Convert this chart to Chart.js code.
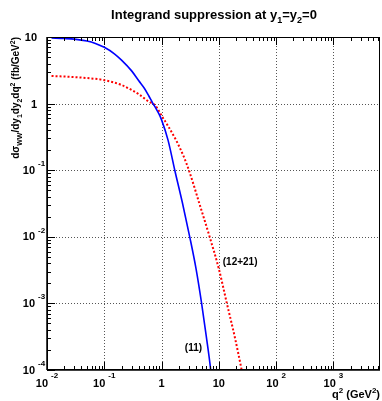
<!DOCTYPE html>
<html>
<head>
<meta charset="utf-8">
<script src="https://cdn.jsdelivr.net/npm/chart.js@4.4.1/dist/chart.umd.min.js"></script>
<style>
  html, body { margin: 0; padding: 0; background: #fff; }
  #wrap { position: relative; width: 382px; height: 401px; }
</style>
</head>
<body>
<div id="wrap"><canvas id="chart" width="382" height="401"></canvas></div>
<script>
// Values (q^2 in GeV^2, dsigma in fb/GeV^2)
const q2Blue  = [0.012, 0.02, 0.03, 0.05, 0.07, 0.1, 0.15, 0.2, 0.3, 0.4, 0.5, 0.6, 0.7, 0.8, 0.9, 1.0, 1.3, 1.7, 2.3, 3.1, 4.0, 5.0, 6.0, 7.2, 7.6];
const sigBlue = [9.65, 9.5, 9.3, 8.7, 8.0, 7.0, 5.6, 4.5, 3.1, 2.2, 1.7, 1.3, 1.02, 0.84, 0.7, 0.57, 0.28, 0.1, 0.033, 0.01, 0.0033, 0.001, 0.00033, 0.0001, 0.00006];

const q2Red  = [0.012, 0.03, 0.05, 0.1, 0.2, 0.3, 0.4, 0.5, 0.6, 0.76, 0.85, 1.0, 1.3, 1.8, 2.4, 3.0, 4.6, 6.9, 10, 13.8, 19, 25, 28];
const sigRed = [2.6, 2.5, 2.42, 2.25, 1.9, 1.6, 1.38, 1.2, 1.07, 0.95, 0.84, 0.66, 0.46, 0.28, 0.165, 0.1, 0.031, 0.01, 0.0033, 0.001, 0.00031, 0.0001, 0.00006];

const xDecades = [-2, -1, 0, 1, 2, 3];
const yDecades = [-4, -3, -2, -1, 0, 1];

const curveLabels = [
  { text: '(12+21)', x: 11.7, y: 0.0038 },
  { text: '(11)',    x: 2.55, y: 0.00019 },
];

const FONT = '"Liberation Sans", Arial, sans-serif';

function toPoints(xs, ys) {
  return xs.map((x, i) => ({ x, y: ys[i] }));
}

// text runs with sub/superscripts
function richWidth(ctx, parts, size) {
  let w = 0;
  parts.forEach(p => {
    ctx.font = `bold ${p.s ? Math.round(size * 0.7) : size}px ${FONT}`;
    w += ctx.measureText(p.t).width;
  });
  return w;
}
function drawRich(ctx, parts, x, y, size) {
  parts.forEach(p => {
    const fs = p.s ? Math.round(size * 0.7) : size;
    ctx.font = `bold ${fs}px ${FONT}`;
    let dy = 0;
    if (p.s === 'sup') dy = -size * 0.45;
    if (p.s === 'sub') dy = size * 0.28;
    ctx.fillText(p.t, x, y + dy);
    x += ctx.measureText(p.t).width;
  });
}

const frame = {
  id: 'frame',
  beforeDatasetsDraw(chart) {
    const { ctx, chartArea: a, scales: { x, y } } = chart;
    ctx.save();
    // dotted grid at decades
    ctx.strokeStyle = '#555';
    ctx.lineWidth = 1;
    ctx.setLineDash([1, 2]);
    xDecades.forEach(e => {
      const px = Math.round(x.getPixelForValue(Math.pow(10, e))) + 0.5;
      if (px <= a.left + 1 || px >= a.right - 1) return;
      ctx.beginPath(); ctx.moveTo(px, a.top); ctx.lineTo(px, a.bottom); ctx.stroke();
    });
    yDecades.forEach(e => {
      const py = Math.round(y.getPixelForValue(Math.pow(10, e))) + 0.5;
      if (py <= a.top + 1 || py >= a.bottom - 1) return;
      ctx.beginPath(); ctx.moveTo(a.left, py); ctx.lineTo(a.right, py); ctx.stroke();
    });
    ctx.restore();
  },
  afterDraw(chart) {
    const { ctx, chartArea: a, scales: { x, y } } = chart;
    ctx.save();
    ctx.setLineDash([]);
    ctx.strokeStyle = '#000';
    ctx.lineWidth = 1;
    ctx.strokeRect(a.left + 0.5, a.top + 0.5, a.right - a.left - 1, a.bottom - a.top - 1);
    ctx.lineWidth = 1.5;
    ctx.beginPath(); ctx.moveTo(a.left, a.bottom); ctx.lineTo(a.right, a.bottom); ctx.stroke();
    ctx.beginPath(); ctx.moveTo(a.left, a.top); ctx.lineTo(a.left, a.bottom); ctx.stroke();

    // inward ticks on bottom, top and left
    ctx.lineWidth = 1;
    for (let e = -2; e <= 3; e++) {
      for (let m = 1; m <= 9; m++) {
        const v = m * Math.pow(10, e);
        if (v < x.min || v > x.max) continue;
        const px = Math.round(x.getPixelForValue(v)) + 0.5;
        const len = m === 1 ? 8 : 4;
        ctx.beginPath(); ctx.moveTo(px, a.bottom); ctx.lineTo(px, a.bottom - len); ctx.stroke();
        ctx.beginPath(); ctx.moveTo(px, a.top); ctx.lineTo(px, a.top + len); ctx.stroke();
      }
    }
    for (let e = -4; e <= 1; e++) {
      for (let m = 1; m <= 9; m++) {
        const v = m * Math.pow(10, e);
        if (v < y.min || v > y.max) continue;
        const py = Math.round(y.getPixelForValue(v)) + 0.5;
        const len = m === 1 ? 8 : 4;
        ctx.beginPath(); ctx.moveTo(a.left, py); ctx.lineTo(a.left + len, py); ctx.stroke();
      }
    }

    ctx.fillStyle = '#000';
    ctx.textBaseline = 'alphabetic';
    ctx.textAlign = 'left';
    const fs = 11;

    // x tick labels: "10" with raised exponent
    xDecades.forEach(e => {
      const px = x.getPixelForValue(Math.pow(10, e));
      const base = e === 0 ? '1' : '10';
      const sup = (e === 0 || e === 1) ? '' : String(e);
      ctx.font = `bold ${fs}px ${FONT}`;
      const wb = ctx.measureText(base).width;
      ctx.font = `bold 8px ${FONT}`;
      const ws = sup ? ctx.measureText(sup).width + 3 : 0;
      const x0 = px - (wb + ws) / 2;
      ctx.font = `bold ${fs}px ${FONT}`;
      ctx.fillText(base, x0, a.bottom + 17);
      if (sup) {
        ctx.font = `bold 8px ${FONT}`;
        ctx.fillText(sup, x0 + wb + 3, a.bottom + 8);
      }
    });
    // y tick labels
    yDecades.forEach(e => {
      const py = y.getPixelForValue(Math.pow(10, e));
      ctx.font = `bold ${fs}px ${FONT}`;
      if (e === 0 || e === 1) {
        const t = e === 0 ? '1' : '10';
        ctx.fillText(t, 37 - ctx.measureText(t).width, py + 4);
      } else {
        ctx.fillText('10', 35 - ctx.measureText('10').width, py + 3.5);
        ctx.font = `bold 8px ${FONT}`;
        ctx.fillText(String(e), 38, py - 4);
      }
    });

    // curve labels
    ctx.font = `bold 10px ${FONT}`;
    curveLabels.forEach(l => {
      ctx.fillText(l.text, x.getPixelForValue(l.x), y.getPixelForValue(l.y));
    });

    // title
    const title = [{ t: 'Integrand suppression at y' }, { t: '1', s: 'sub' }, { t: '=y' }, { t: '2', s: 'sub' }, { t: '=0' }];
    const tw = richWidth(ctx, title, 13);
    drawRich(ctx, title, 214 - tw / 2, 19, 13);

    // x axis title, right aligned
    const xt = [{ t: 'q' }, { t: '2', s: 'sup' }, { t: ' (GeV' }, { t: '2', s: 'sup' }, { t: ')' }];
    const xw = richWidth(ctx, xt, 11);
    drawRich(ctx, xt, a.right - xw, 398, 11);

    // y axis title, rotated, right aligned at top
    const yt = [{ t: 'd\u03c3' }, { t: 'WW', s: 'sub' }, { t: '/dy' }, { t: '1', s: 'sub' }, { t: 'dy' }, { t: '2', s: 'sub' },
                { t: 'dq' }, { t: '2', s: 'sup' }, { t: ' (fb/GeV' }, { t: '2', s: 'sup' }, { t: ')' }];
    const yw = richWidth(ctx, yt, 10);
    ctx.translate(19, a.top);
    ctx.rotate(-Math.PI / 2);
    drawRich(ctx, yt, -yw, 0, 10);
    ctx.restore();
  }
};

new Chart(document.getElementById('chart'), {
  type: 'scatter',
  data: {
    datasets: [
      {
        label: '(11)',
        data: toPoints(q2Blue, sigBlue),
        showLine: true,
        borderColor: '#0000ff',
        borderWidth: 1.6,
        pointRadius: 0,
        cubicInterpolationMode: 'monotone',
      },
      {
        label: '(12+21)',
        data: toPoints(q2Red, sigRed),
        showLine: true,
        borderColor: '#ff0000',
        borderWidth: 2,
        borderDash: [2, 2],
        pointRadius: 0,
        cubicInterpolationMode: 'monotone',
      },
    ],
  },
  options: {
    responsive: false,
    animation: false,
    layout: { padding: { left: 47, right: 2, top: 37, bottom: 31 } },
    plugins: { legend: { display: false }, tooltip: { enabled: false } },
    scales: {
      x: { type: 'logarithmic', min: 0.01, max: 6500, display: false },
      y: { type: 'logarithmic', min: 0.0001, max: 10, display: false },
    },
  },
  plugins: [frame],
});
</script>
</body>
</html>
